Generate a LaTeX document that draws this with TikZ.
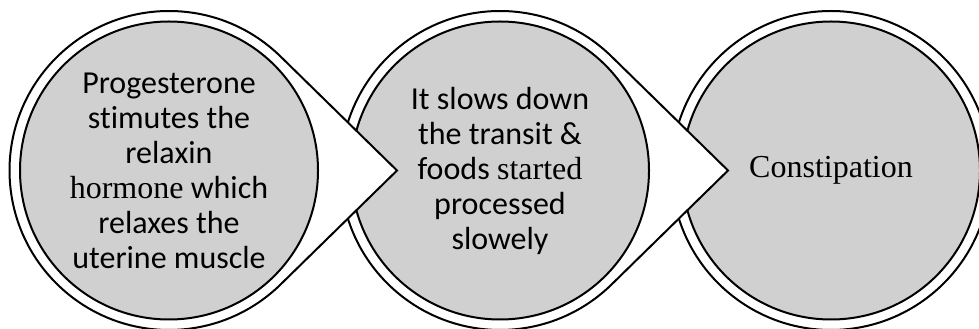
\documentclass[tikz,border=0pt]{standalone}
\usepackage{fontspec}
\usepackage{tikz}
\usepackage{xcolor}
\setmainfont{Carlito}[Ligatures={NoCommon}]
\newfontfamily\serifword{Liberation Serif}
\usetikzlibrary{calc}
\definecolor{discgray}{RGB}{208,208,208}

\begin{document}
\begin{tikzpicture}[x=1pt,y=1pt,
  ring/.style={draw=black,line width=2pt,fill=white},
  disc/.style={circle,draw=black,line width=2pt,fill=discgray,
    minimum size=298pt,inner sep=0pt,align=center,
    font=\fontsize{32}{35}\selectfont}]
\useasboundingbox (0,0) rectangle (979,329);

% centres and pointer tips
\coordinate (cA) at (169,158.5);
\coordinate (cB) at (500,158.5);
\coordinate (cC) at (831,158.5);
\coordinate (tipA) at (397,158.5);
\coordinate (tipB) at (728,158.5);

% last step
\draw[ring] (cC) circle[radius=159.5];
\node[disc] (constip) at (cC) {\serifword Constipation};

% middle step
\draw[ring] (tipB) -- ($(cB)+(45.6:159.5)$)
  arc[start angle=45.6,end angle=314.4,radius=159.5] -- cycle;
\node[disc] (transit) at (cB) {It slows down\\the transit \&\\foods {\serifword started}\\processed\\slowely};

% first step
\draw[ring] (tipA) -- ($(cA)+(45.6:159.5)$)
  arc[start angle=45.6,end angle=314.4,radius=159.5] -- cycle;
\node[disc] (progest) at (cA) {Progesterone\\stimutes the\\relaxin\\{\serifword hormone} which\\relaxes the\\uterine muscle};
\end{tikzpicture}
\end{document}
